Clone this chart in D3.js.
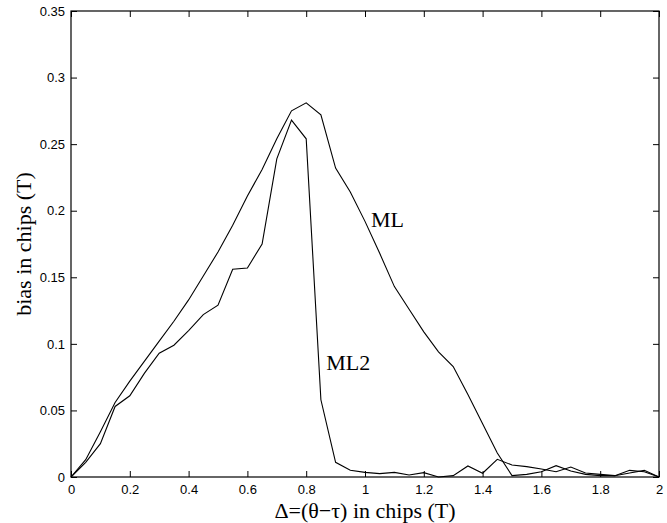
<!DOCTYPE html>
<html lang="en">

<head>
    <meta charset="UTF-8">
    <title>bias vs delta</title>
    <script src="https://d3js.org/d3.v7.min.js"></script>
    <style>
        body { margin: 0; background: #fff; }
        .tick text { font-family: "Liberation Sans", Arial, sans-serif; font-size: 13px; fill: #000; }
        .tick line { stroke: #000; }
        .domain { display: none; }
    </style>
</head>

<body>
    <svg id="graph" width="667" height="523"></svg>

    <script>
        // x positions (chips), step 0.05
        const delta = d3.range(41).map(i => +(i * 0.05).toFixed(2));

        const ml = [0, 0.013, 0.034, 0.056, 0.072, 0.087, 0.102, 0.117, 0.133, 0.151,
            0.169, 0.189, 0.211, 0.231, 0.254, 0.275, 0.281, 0.272, 0.232, 0.214,
            0.192, 0.168, 0.143, 0.126, 0.109, 0.094, 0.083, 0.062, 0.040, 0.018,
            0.001, 0.002, 0.004, 0.0085, 0.0045, 0.002, 0.001, 0.001, 0.005, 0.004, 0];

        const ml2 = [0, 0.011, 0.025, 0.053, 0.061, 0.078, 0.093, 0.099, 0.110, 0.122,
            0.129, 0.156, 0.157, 0.175, 0.239, 0.268, 0.254, 0.058, 0.011, 0.005,
            0.0035, 0.0025, 0.0035, 0.0015, 0.0033, 0, 0.001, 0.0083, 0.0028, 0.0133,
            0.009, 0.0078, 0.006, 0.004, 0.0075, 0.003, 0.002, 0.001, 0.003, 0.005, 0];

        const xTicks = [0, 0.2, 0.4, 0.6, 0.8, 1, 1.2, 1.4, 1.6, 1.8, 2];
        const yTicks = [0, 0.05, 0.1, 0.15, 0.2, 0.25, 0.3, 0.35];

        const svg = d3.select("#graph");
        const margin = { top: 11, right: 8, bottom: 46, left: 71 };
        const width = +svg.attr("width");
        const height = +svg.attr("height");

        const x = d3.scaleLinear().domain([0, 2]).range([margin.left, width - margin.right]);
        const y = d3.scaleLinear().domain([0, 0.35]).range([height - margin.bottom, margin.top]);

        const fmt = d => String(+d.toFixed(2));

        // axes, ticks pointing inward
        svg.append("g")
            .attr("transform", `translate(0,${y(0)})`)
            .call(d3.axisBottom(x).tickValues(xTicks).tickFormat(fmt).tickSize(-6).tickPadding(8));
        svg.append("g")
            .attr("transform", `translate(0,${y(0.35)})`)
            .call(d3.axisTop(x).tickValues(xTicks).tickFormat("").tickSize(-6));
        svg.append("g")
            .attr("transform", `translate(${x(0)},0)`)
            .call(d3.axisLeft(y).tickValues(yTicks).tickFormat(fmt).tickSize(-6).tickPadding(6));
        svg.append("g")
            .attr("transform", `translate(${x(2)},0)`)
            .call(d3.axisRight(y).tickValues(yTicks).tickFormat("").tickSize(-6));

        // frame
        svg.append("rect")
            .attr("x", x(0)).attr("y", y(0.35))
            .attr("width", x(2) - x(0)).attr("height", y(0) - y(0.35))
            .attr("fill", "none").attr("stroke", "#000").attr("stroke-width", 1.2);

        const line = d3.line().x((d, i) => x(delta[i])).y(d => y(d));

        [ml, ml2].forEach(series => {
            svg.append("path")
                .datum(series)
                .attr("d", line)
                .attr("fill", "none")
                .attr("stroke", "#000")
                .attr("stroke-width", 1.1);
        });

        // curve labels
        const serif = '"Liberation Serif", "Times New Roman", serif';
        svg.append("text")
            .attr("x", x(1.02)).attr("y", y(0.188))
            .style("font-family", serif).style("font-size", "22px")
            .text("ML");
        svg.append("text")
            .attr("x", x(0.868)).attr("y", y(0.08))
            .style("font-family", serif).style("font-size", "22px")
            .text("ML2");

        // axis titles
        svg.append("text")
            .attr("x", (x(0) + x(2)) / 2).attr("y", 518)
            .attr("text-anchor", "middle")
            .style("font-family", serif).style("font-size", "22px")
            .text("Δ=(θ−τ) in chips (T)");
        svg.append("text")
            .attr("transform", `translate(31,${(y(0) + y(0.35)) / 2}) rotate(-90)`)
            .attr("text-anchor", "middle")
            .style("font-family", serif).style("font-size", "22px")
            .text("bias in chips (T)");
    </script>
</body>

</html>
